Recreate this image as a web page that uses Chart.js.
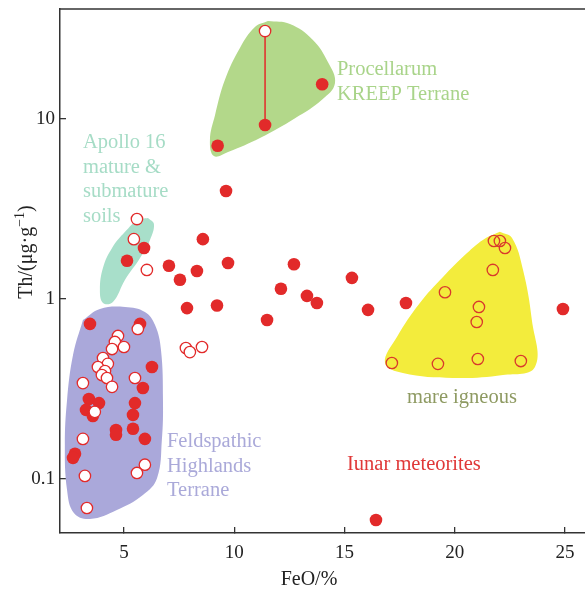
<!DOCTYPE html>
<html>
<head>
<meta charset="utf-8">
<script src="https://cdn.jsdelivr.net/npm/chart.js@4.4.1/dist/chart.umd.min.js"></script>
<style>
  html, body { margin: 0; padding: 0; background: #fff; }
  canvas { display: block; }
</style>
</head>
<body>
<canvas id="chart" width="585" height="591"></canvas>
<script>
// FeO (%) vs Th (ug/g)
const kreepFilled = [[11.4, 9.26], [9.25, 7.1], [13.99, 15.6]];
const kreepOpen = [[11.4, 30.8]];
const apolloOpen = [[5.59, 2.78], [5.45, 2.15], [6.04, 1.45]];
const meteoriteFilled = [
  [5.91, 1.92], [5.14, 1.63], [7.04, 1.53], [7.54, 1.28], [8.31, 1.43], [8.58, 2.15],
  [9.63, 3.98], [9.72, 1.585], [7.86, 0.89], [9.22, 0.92], [11.49, 0.764], [12.12, 1.14],
  [12.71, 1.56], [13.3, 1.04], [13.75, 0.95], [15.34, 1.31], [16.07, 0.87], [17.79, 0.95],
  [24.91, 0.88], [16.43, 0.0592]
];
const meteoriteOpen = [[7.81, 0.534], [7.99, 0.507], [8.54, 0.541]];
const highlandsFilled = [
  [3.46, 0.727], [5.73, 0.727], [6.27, 0.419], [5.86, 0.32], [3.41, 0.278], [3.87, 0.264],
  [3.28, 0.242], [3.59, 0.224], [5.5, 0.264], [5.41, 0.227], [4.64, 0.187], [4.64, 0.176],
  [5.41, 0.19], [5.95, 0.167], [2.78, 0.138], [2.69, 0.131]
];
const highlandsOpen = [
  [5.63, 0.681], [4.73, 0.623], [4.59, 0.577], [5.0, 0.541], [4.46, 0.527], [4.05, 0.47],
  [4.27, 0.436], [3.82, 0.419], [4.14, 0.398], [4.0, 0.378], [4.23, 0.364], [4.46, 0.325],
  [3.14, 0.341], [5.5, 0.364], [3.68, 0.236], [3.14, 0.167], [5.95, 0.12], [5.59, 0.108],
  [3.23, 0.104], [3.32, 0.069]
];
const mareOpen = [
  [21.78, 2.1], [22.05, 2.1], [22.28, 1.92], [21.73, 1.45], [19.56, 1.09], [21.1, 0.903],
  [21.0, 0.745], [17.15, 0.441], [19.24, 0.436], [21.05, 0.464], [23.0, 0.452]
];

// outlines of the shaded fields
const kreepField = [
  [11.53, 35.0], [12.53, 33.7], [13.57, 27.5], [14.25, 20.7], [14.57, 15.8], [13.98, 12.8],
  [12.76, 10.1], [11.17, 7.84], [9.72, 6.56], [9.08, 6.23], [8.9, 7.65], [9.13, 10.5],
  [9.58, 16.5], [10.26, 24.8], [10.94, 32.4]
];
const apolloField = [
  [6.09, 2.82], [6.36, 2.61], [6.18, 2.13], [5.73, 1.69], [5.05, 1.28], [4.5, 0.962],
  [4.05, 0.95], [3.91, 1.12], [4.05, 1.49], [4.46, 1.92], [5.05, 2.36], [5.63, 2.75]
];
const highlandsField = [
  [3.14, 0.764], [3.91, 0.88], [5.05, 0.903], [5.95, 0.847], [6.41, 0.717], [6.68, 0.521],
  [6.77, 0.275], [6.72, 0.165], [6.5, 0.101], [5.86, 0.0815], [4.68, 0.0673], [3.46, 0.06],
  [2.73, 0.0648], [2.42, 0.0869], [2.32, 0.155], [2.42, 0.275], [2.69, 0.489]
];
const mareField = [
  [22.05, 2.36], [22.6, 2.18], [23.1, 1.45], [23.5, 0.764], [23.64, 0.419], [22.19, 0.378],
  [19.92, 0.364], [17.65, 0.388], [16.84, 0.441], [17.38, 0.615], [18.42, 0.95], [19.47, 1.325],
  [20.56, 1.8], [21.28, 2.13]
];

const xTicks = [5, 10, 15, 20, 25];
const yTicks = [0.1, 1, 10];

const notes = [
  { lines: ['Apollo 16', 'mature &', 'submature', 'soils'], x: 3.14, y: 6.9, align: 'left', color: '#a6dcc6' },
  { lines: ['Procellarum', 'KREEP Terrane'], x: 14.66, y: 17.5, align: 'left', color: '#a9d48a' },
  { lines: ['Feldspathic', 'Highlands', 'Terrane'], x: 6.95, y: 0.1506, align: 'left', color: '#aaa9d9' },
  { lines: ['mare igneous'], x: 20.33, y: 0.264, align: 'center', color: '#8e9a62' },
  { lines: ['Iunar meteorites'], x: 18.15, y: 0.112, align: 'center', color: '#e03838' }
];

const RED = '#e22a2a';
const SERIF = '"Liberation Serif", "Times New Roman", serif';

function xy(arr) {
  return arr.map(p => ({ x: p[0], y: p[1] }));
}
function loop(arr) {
  return xy(arr.concat([arr[0]]));
}

function field(points, color) {
  return {
    type: 'line',
    data: loop(points),
    fill: 'shape',
    backgroundColor: color,
    borderColor: 'rgba(0,0,0,0)',
    borderWidth: 0,
    pointRadius: 0,
    tension: 0.4,
    order: 10
  };
}
function filled(points) {
  return {
    data: xy(points),
    pointRadius: 6.3,
    backgroundColor: RED,
    borderWidth: 0,
    order: 1
  };
}
function hollow(points, fillColor, edge) {
  return {
    data: xy(points),
    pointRadius: 5.7,
    backgroundColor: fillColor,
    borderColor: edge || RED,
    borderWidth: 1.3,
    order: 0
  };
}

const notesPlugin = {
  id: 'notes',
  afterDatasetsDraw(chart) {
    const { ctx, chartArea } = chart;
    const x = chart.scales.x, y = chart.scales.y;
    ctx.save();
    ctx.font = '20.5px ' + SERIF;
    ctx.textBaseline = 'alphabetic';
    notes.forEach(n => {
      ctx.fillStyle = n.color;
      ctx.textAlign = n.align;
      const px = x.getPixelForValue(n.x), py = y.getPixelForValue(n.y);
      n.lines.forEach((t, i) => ctx.fillText(t, px, py + i * 24.6));
    });

    // frame top
    ctx.strokeStyle = '#333';
    ctx.lineWidth = 1.5;
    ctx.beginPath();
    ctx.moveTo(chartArea.left, chartArea.top);
    ctx.lineTo(chartArea.right, chartArea.top);
    ctx.stroke();

    // axis titles
    ctx.fillStyle = '#222';
    ctx.font = '20px ' + SERIF;
    ctx.textAlign = 'center';
    ctx.fillText('FeO/%', chartArea.left + 249, chartArea.bottom + 52);

    const a = 'Th/(μg·g', sup = '−1', b = ')';
    ctx.font = '20px ' + SERIF;
    const wa = ctx.measureText(a).width, wb = ctx.measureText(b).width;
    ctx.font = '14px ' + SERIF;
    const ws = ctx.measureText(sup).width;
    const total = wa + ws + wb;
    ctx.translate(32, 252);
    ctx.rotate(-Math.PI / 2);
    ctx.textAlign = 'left';
    let cx = -total / 2;
    ctx.font = '20px ' + SERIF;
    ctx.fillText(a, cx, 0);
    cx += wa;
    ctx.font = '14px ' + SERIF;
    ctx.fillText(sup, cx, -8);
    cx += ws;
    ctx.font = '20px ' + SERIF;
    ctx.fillText(b, cx, 0);
    ctx.restore();
  }
};

const chart = new Chart(document.getElementById('chart'), {
  type: 'scatter',
  data: {
    datasets: [
      field(kreepField, '#b3d88a'),
      field(apolloField, '#a8dfca'),
      field(highlandsField, '#aaa8da'),
      field(mareField, '#f3ec3c'),
      {
        type: 'line',
        data: xy([kreepOpen[0], kreepFilled[0]]),
        borderColor: RED,
        borderWidth: 1.5,
        pointRadius: 0,
        fill: false,
        order: 2
      },
      filled(kreepFilled),
      filled(meteoriteFilled),
      filled(highlandsFilled),
      hollow(kreepOpen, '#fff'),
      hollow(apolloOpen, '#fff'),
      hollow(meteoriteOpen, '#fff'),
      hollow(highlandsOpen, '#fff'),
      hollow(mareOpen, 'rgba(0,0,0,0)', '#d9392c')
    ]
  },
  options: {
    responsive: false,
    animation: false,
    devicePixelRatio: 1,
    events: [],
    layout: { autoPadding: false, padding: { top: 9, left: 0, right: 0, bottom: 0 } },
    plugins: {
      legend: { display: false },
      tooltip: { enabled: false }
    },
    scales: {
      x: {
        type: 'linear',
        min: 2.1,
        max: 25.91,
        afterFit(s) { s.height = 58; s.paddingLeft = 0; s.paddingRight = 0; },
        afterBuildTicks(s) { s.ticks = xTicks.map(v => ({ value: v })); },
        grid: { drawOnChartArea: false, tickLength: -6, color: '#333', lineWidth: 1.3 },
        border: { color: '#333', width: 1.5 },
        ticks: { color: '#222', font: { family: SERIF, size: 19 }, padding: 15, maxRotation: 0 }
      },
      y: {
        type: 'logarithmic',
        min: 0.0501,
        max: 40.84,
        afterFit(s) { s.width = 60; s.paddingTop = 0; s.paddingBottom = 0; },
        afterBuildTicks(s) { s.ticks = yTicks.map(v => ({ value: v })); },
        grid: { drawOnChartArea: false, tickLength: -6, color: '#333', lineWidth: 1.3 },
        border: { color: '#333', width: 1.5 },
        ticks: {
          color: '#222',
          font: { family: SERIF, size: 19 },
          padding: 11,
          callback: v => String(v)
        }
      }
    }
  },
  plugins: [notesPlugin]
});
</script>
</body>
</html>
